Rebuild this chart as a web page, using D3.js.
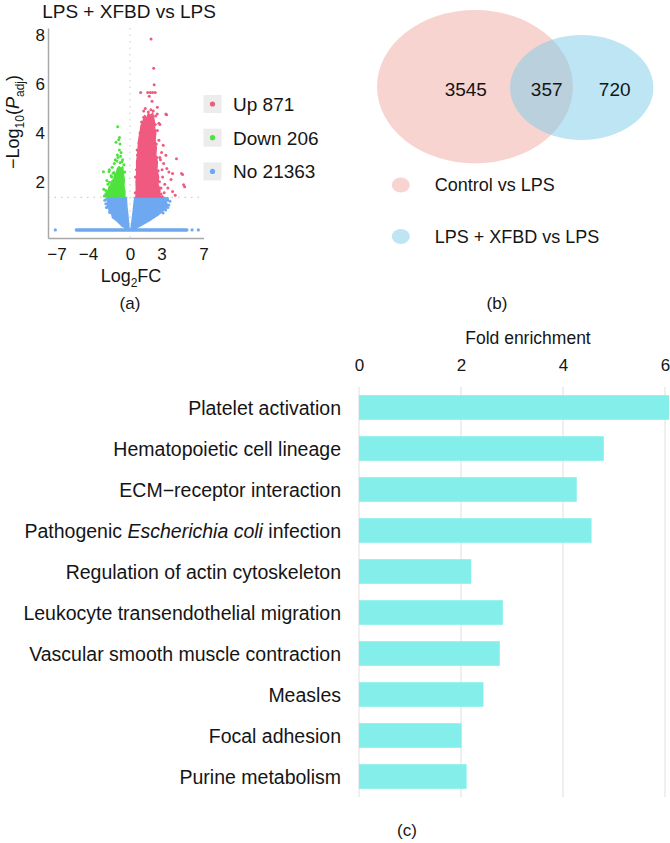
<!DOCTYPE html>
<html>
<head>
<meta charset="utf-8">
<script src="https://cdn.jsdelivr.net/npm/d3@7"></script>
<style>
body { margin: 0; background: #fff; }
text { font-family: "Liberation Sans", Arial, sans-serif; fill: #151515; }
</style>
</head>
<body>
<div class="fig"></div>
<script>

// ---- (a) volcano plot ----
var volcanoTitle = "LPS + XFBD vs LPS";
var volcanoLegend = ["Up 871", "Down 206", "No 21363"];
var log2fcTicks = [-7, -4, 0, 3, 7];
var padjTicks = [2, 4, 6, 8];
var padjCutoff = 1.36;

// dense parts of each group (outline of the point cloud)
var upCore = [[0.56,1.38],[0.6,1.7],[0.58,2.0],[0.65,2.4],[0.63,2.8],[0.72,3.1],[0.78,3.4],[0.82,3.7],
  [0.95,4.0],[1.05,4.3],[1.25,4.5],[1.4,4.72],[1.6,4.6],[1.75,4.8],[2.0,4.7],[2.15,4.82],[2.3,4.5],
  [2.35,4.2],[2.45,4.0],[2.38,3.7],[2.5,3.4],[2.45,3.1],[2.6,2.8],[2.55,2.5],[2.72,2.2],[2.65,1.9],
  [2.85,1.7],[2.78,1.5],[2.9,1.38]];
var downCore = [[-2.35,1.38],[-2.25,1.55],[-2.1,1.62],[-2.0,1.8],[-1.85,1.85],[-1.7,2.05],[-1.55,2.1],
  [-1.45,2.3],[-1.3,2.35],[-1.2,2.55],[-1.05,2.62],[-0.85,2.55],[-0.7,2.62],[-0.62,2.3],[-0.55,2.1],
  [-0.58,1.8],[-0.48,1.6],[-0.5,1.38]];
var noCoreLeft = [[-2.05,1.36],[-2.18,1.25],[-2.1,1.1],[-2.2,0.98],[-2.0,0.88],[-1.95,0.75],[-1.75,0.68],
  [-1.65,0.55],[-1.4,0.45],[-1.2,0.38],[-0.9,0.25],[-0.6,0.15],[-0.35,0.07],[-0.08,0.03],[-0.15,0.35],
  [-0.22,0.7],[-0.3,1.0],[-0.35,1.36]];
var noCoreRight = [[0.45,1.36],[3.3,1.36],[3.5,1.28],[3.45,1.15],[3.6,1.05],[3.45,0.95],[3.3,0.85],
  [3.0,0.78],[2.7,0.65],[2.3,0.55],[1.9,0.42],[1.4,0.3],[0.9,0.18],[0.5,0.08],[0.08,0.03],[0.18,0.35],
  [0.28,0.7],[0.35,1.0]];

// scattered points outside the dense parts
var upPoints = [[2.0,7.85],[2.25,6.65],[2.3,5.98],[1.01,5.66],[1.68,5.66],[1.93,5.66],[2.15,5.66],[2.4,5.66],
  [1.83,5.5],[1.74,4.86],[1.99,4.95],[2.21,4.9],[2.59,4.78],[2.43,4.7],[3.41,4.78],[1.86,4.72],[2.84,4.35],
  [3.48,4.75],[1.3,4.9],[1.45,5.0],[2.1,5.3],[2.6,5.05],[1.55,4.45],[1.15,4.25],[2.6,4.1],[2.75,4.4],
  [2.75,3.7],[0.95,4.0],[0.85,3.6],[3.16,3.5],[3.41,3.09],[3.0,3.2],[2.84,3.0],[2.9,2.9],[3.2,2.75],
  [3.5,2.55],[3.7,2.4],[3.05,2.5],[4.42,2.95],[4.05,2.34],[4.9,2.34],[5.0,2.3],[5.2,1.8],[5.1,1.88],
  [4.05,1.6],[4.3,1.45],[3.1,2.2],[3.3,1.9],[3.6,1.75],[2.95,1.5],[3.9,2.1],[3.25,1.55],[3.06,1.4],
  [0.62,2.5],[0.7,3.1],[0.75,2.0],[0.5,1.55],[0.52,2.2],[2.8,2.0],[2.75,1.6],[2.68,2.45],[2.55,3.0],
  [1.1,4.45],[1.3,4.65],[2.4,4.35],[2.95,1.75],[0.68,3.3],[2.5,3.55]];
var downPoints = [[-1.17,4.26],[-1.0,3.82],[-1.08,3.72],[-1.33,3.62],[-0.95,3.55],[-1.01,3.3],[-0.85,3.2],
  [-1.2,3.1],[-1.15,3.0],[-0.9,3.05],[-0.7,2.9],[-0.78,2.82],[-0.95,2.78],[-1.4,2.9],[-1.25,2.85],
  [-1.5,2.75],[-1.7,2.6],[-1.96,2.5],[-2.0,2.42],[-2.53,2.41],[-1.74,2.2],[-1.52,2.38],[-1.8,2.25],
  [-1.6,2.35],[-2.2,2.05],[-2.1,1.9],[-2.5,1.7],[-2.3,1.5],[-2.45,1.42],[-2.3,1.65],[-1.95,1.98],
  [-0.5,2.4],[-0.58,2.7]];
var noPoints = [[-2.2,1.3],[-2.3,1.1],[-1.95,0.75],[-1.6,0.55],[3.6,1.25],[3.7,1.05],[3.4,0.85],
  [2.9,0.75],[2.2,0.55],[3.55,1.33],[3.8,1.2],[-2.4,1.25],[-2.25,0.95],[3.6,0.95],[0.5,0.12],
  [-0.7,0.2],[3.15,0.72]];
// genes with padj ~ 1 sit on one row at the bottom
var zeroRow = [-5.1, 5.4];
var zeroRowOutliers = [-7.1, 5.9, 6.5];

// ---- (b) venn ----
var vennSets = ["Control vs LPS", "LPS + XFBD vs LPS"];
var vennCounts = [3545, 357, 720];

// ---- (c) KEGG enrichment ----
var pathways = ["Platelet activation", "Hematopoietic cell lineage", "ECM\u2212receptor interaction",
  "Pathogenic Escherichia coli infection", "Regulation of actin cytoskeleton",
  "Leukocyte transendothelial migration", "Vascular smooth muscle contraction", "Measles",
  "Focal adhesion", "Purine metabolism"];
var foldEnrichment = [6.08, 4.80, 4.27, 4.56, 2.20, 2.82, 2.76, 2.44, 2.01, 2.11];
var foldTicks = [0, 2, 4, 6];
var italicTerms = ["Escherichia coli"];

var colUp = "#f05a80", colDown = "#4fe23f", colNo = "#6ea8f0";

var svg = d3.select(".fig").append("svg")
    .attr("width", 670)
    .attr("height", 843);

// ================= (a) =================
var vx = d3.scaleLinear().domain([-7.8, 7.0]).range([48, 203.6]);
var vy = d3.scaleLinear().domain([-0.3, 8.3]).range([238, 28]);

var va = svg.append("g");

va.append("text")
    .attr("x", 129).attr("y", 18)
    .attr("text-anchor", "middle")
    .style("font-size", "19px")
    .text(volcanoTitle);

// cut-off lines
va.append("line")
    .attr("x1", vx(0)).attr("x2", vx(0))
    .attr("y1", vy(8.3)).attr("y2", vy(-0.3))
    .attr("stroke", "#d4d4d4").attr("stroke-width", 1.2)
    .attr("stroke-dasharray", "1.5,5");
va.append("line")
    .attr("x1", vx(-7.8)).attr("x2", vx(7.0))
    .attr("y1", vy(padjCutoff)).attr("y2", vy(padjCutoff))
    .attr("stroke", "#cfcfcf").attr("stroke-width", 1.2)
    .attr("stroke-dasharray", "1.5,5");

var cloud = d3.line()
    .x(function(d) { return vx(d[0]); })
    .y(function(d) { return vy(d[1]); })
    .curve(d3.curveLinearClosed);

var cores = [[noCoreLeft, colNo], [noCoreRight, colNo], [downCore, colDown], [upCore, colUp]];
va.selectAll(".core")
    .data(cores)
    .enter().append("path")
    .attr("class", "core")
    .attr("d", function(d) { return cloud(d[0]); })
    .attr("fill", function(d) { return d[1]; })
    .attr("stroke", function(d) { return d[1]; })
    .attr("stroke-width", 1.5)
    .attr("stroke-linejoin", "round");

va.append("line")
    .attr("x1", vx(zeroRow[0])).attr("x2", vx(zeroRow[1]))
    .attr("y1", vy(0.03)).attr("y2", vy(0.03))
    .attr("stroke", colNo).attr("stroke-width", 3.5)
    .attr("stroke-linecap", "round");

va.selectAll(".zo")
    .data(zeroRowOutliers)
    .enter().append("circle")
    .attr("class", "zo")
    .attr("cx", function(d) { return vx(d); })
    .attr("cy", vy(0.03))
    .attr("r", 1.6)
    .attr("fill", colNo);

function dots(data, col, cls) {
  va.selectAll("." + cls)
    .data(data)
    .enter().append("circle")
    .attr("class", cls)
    .attr("cx", function(d) { return vx(d[0]); })
    .attr("cy", function(d) { return vy(d[1]); })
    .attr("r", 1.5)
    .attr("fill", col);
}
dots(noPoints, colNo, "dno");
dots(downPoints, colDown, "ddown");
dots(upPoints, colUp, "dup");

// axes
var yAx = va.append("g")
    .attr("transform", "translate(48,0)")
    .call(d3.axisLeft(vy).tickValues(padjTicks).tickSize(0).tickPadding(3));
var xAx = va.append("g")
    .attr("transform", "translate(0,238)")
    .call(d3.axisBottom(vx).tickValues(log2fcTicks).tickSize(0).tickPadding(10));
[yAx, xAx].forEach(function(a) {
  a.select(".domain").attr("stroke", "#a8a8a8").attr("stroke-width", 1.5);
  a.selectAll("text").style("font-size", "17px").attr("fill", "#151515")
    .style("font-family", "'Liberation Sans', Arial, sans-serif");
});

var ylab = va.append("text")
    .attr("transform", "translate(19,122) rotate(-90)")
    .attr("text-anchor", "middle")
    .style("font-size", "18px");
ylab.append("tspan").text("\u2212Log");
ylab.append("tspan").attr("dy", 5).style("font-size", "12px").text("10");
ylab.append("tspan").attr("dy", -5).text("(");
ylab.append("tspan").style("font-style", "italic").text("P");
ylab.append("tspan").attr("dy", 5).style("font-size", "12px").text("adj");
ylab.append("tspan").attr("dy", -5).text(")");

var xlab = va.append("text")
    .attr("x", 131).attr("y", 282)
    .attr("text-anchor", "middle")
    .style("font-size", "18px");
xlab.append("tspan").text("Log");
xlab.append("tspan").attr("dy", 5).style("font-size", "12px").text("2");
xlab.append("tspan").attr("dy", -5).text("FC");

// legend
var legCols = [colUp, colDown, colNo];
var leg = va.selectAll(".leg")
    .data(volcanoLegend)
    .enter().append("g")
    .attr("class", "leg")
    .attr("transform", function(d, i) { return "translate(212.5," + (104 + i * 33.7) + ")"; });
leg.append("rect")
    .attr("x", -9).attr("y", -9).attr("width", 18).attr("height", 18)
    .attr("fill", "#ececec");
leg.append("circle")
    .attr("r", 2.6)
    .attr("fill", function(d, i) { return legCols[i]; });
leg.append("text")
    .attr("x", 20.5).attr("dy", "0.36em")
    .style("font-size", "19px")
    .text(function(d) { return d; });

svg.append("text")
    .attr("x", 130).attr("y", 309)
    .attr("text-anchor", "middle")
    .style("font-size", "17px")
    .text("(a)");

// ================= (b) =================
var vb = svg.append("g");
vb.append("ellipse")
    .attr("cx", 475).attr("cy", 86.7).attr("rx", 98).attr("ry", 76.7)
    .attr("fill", "#f8d4d1");
vb.append("ellipse")
    .attr("cx", 581.7).attr("cy", 87.5).attr("rx", 71.7).attr("ry", 52.5)
    .attr("fill", "#7dcbe9").attr("fill-opacity", 0.5);

var countX = [465.8, 546.7, 614.7];
vb.selectAll(".cnt")
    .data(vennCounts)
    .enter().append("text")
    .attr("class", "cnt")
    .attr("x", function(d, i) { return countX[i]; })
    .attr("y", 89.3)
    .attr("dy", "0.36em")
    .attr("text-anchor", "middle")
    .style("font-size", "19px")
    .text(function(d) { return d; });

var vennCols = [["#f8d4d1", 1], ["#7dcbe9", 0.5]];
var vleg = vb.selectAll(".vleg")
    .data(vennSets)
    .enter().append("g")
    .attr("class", "vleg")
    .attr("transform", function(d, i) { return "translate(400.8," + (185 + i * 51.5) + ")"; });
vleg.append("ellipse")
    .attr("rx", 9).attr("ry", 7.5)
    .attr("fill", function(d, i) { return vennCols[i][0]; })
    .attr("fill-opacity", function(d, i) { return vennCols[i][1]; });
vleg.append("text")
    .attr("x", 34).attr("dy", "0.36em")
    .style("font-size", "18px")
    .text(function(d) { return d; });

svg.append("text")
    .attr("x", 497).attr("y", 309)
    .attr("text-anchor", "middle")
    .style("font-size", "17px")
    .text("(b)");

// ================= (c) =================
var bx = d3.scaleLinear().domain([0, 6]).range([359, 665]);
var by = d3.scaleBand().domain(pathways).range([387, 797])
    .paddingInner(0.4).paddingOuter(0.2);

var vc = svg.append("g");

vc.append("text")
    .attr("x", 528).attr("y", 344)
    .attr("text-anchor", "middle")
    .style("font-size", "17.5px")
    .text("Fold enrichment");

vc.selectAll(".grid")
    .data(foldTicks)
    .enter().append("line")
    .attr("class", "grid")
    .attr("x1", function(d) { return bx(d); })
    .attr("x2", function(d) { return bx(d); })
    .attr("y1", 387).attr("y2", 797)
    .attr("stroke", "#e6e6e6").attr("stroke-width", 1.3);

var topAx = vc.append("g")
    .attr("transform", "translate(0,377)")
    .call(d3.axisTop(bx).tickValues(foldTicks).tickFormat(d3.format("d"))
      .tickSize(0).tickPadding(6));
topAx.select(".domain").remove();
topAx.selectAll("text").style("font-size", "17px").attr("fill", "#151515")
    .style("font-family", "'Liberation Sans', Arial, sans-serif");

vc.selectAll(".bar")
    .data(pathways)
    .enter().append("rect")
    .attr("class", "bar")
    .attr("x", bx(0))
    .attr("y", function(d) { return by(d); })
    .attr("width", function(d, i) { return bx(foldEnrichment[i]) - bx(0); })
    .attr("height", by.bandwidth())
    .attr("fill", "#84efea");

var labs = vc.selectAll(".plab")
    .data(pathways)
    .enter().append("text")
    .attr("class", "plab")
    .attr("x", 341)
    .attr("y", function(d) { return by(d) + by.bandwidth() / 2; })
    .attr("dy", "0.36em")
    .attr("text-anchor", "end")
    .style("font-size", "19.5px");

labs.each(function(d) {
  var t = d3.select(this);
  var term = italicTerms.find(function(s) { return d.indexOf(s) >= 0; });
  if (!term) { t.text(d); return; }
  var k = d.indexOf(term);
  t.append("tspan").text(d.slice(0, k));
  t.append("tspan").style("font-style", "italic").text(term);
  t.append("tspan").text(d.slice(k + term.length));
});

svg.append("text")
    .attr("x", 407).attr("y", 836)
    .attr("text-anchor", "middle")
    .style("font-size", "17px")
    .text("(c)");

</script>
</body>
</html>
